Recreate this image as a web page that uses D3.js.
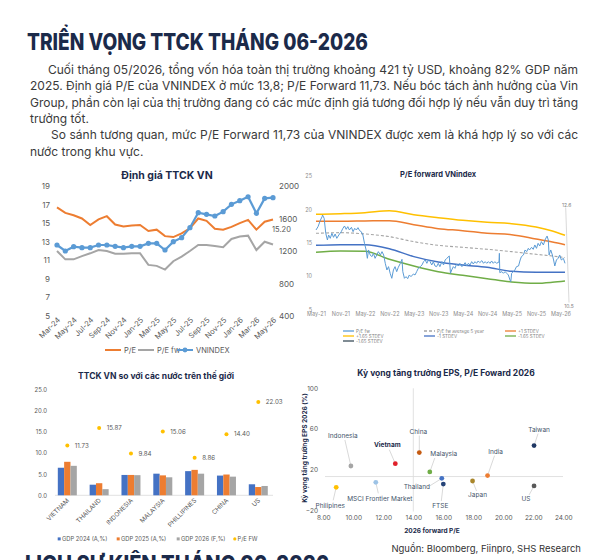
<!DOCTYPE html>
<meta charset="utf-8">
<style>
body { margin: 0; background: #fff; }
#page { width: 595px; height: 560px; overflow: hidden; }
</style>
<div id="page"></div>
<script src="https://d3js.org/d3.v7.min.js"></script>
<script>
  var FONT = "Inter, 'Noto Sans', 'DejaVu Sans', sans-serif";
  var NAVY = "#1B2A4A";
  var GREY = "#595959";

  // ---- header text
  var pageTitle = "TRIỂN VỌNG TTCK THÁNG 06-2026";
  var nextTitle = "LỊCH SỰ KIỆN THÁNG 06-2026";
  var introLines = [
    "Cuối tháng 05/2026, tổng vốn hóa toàn thị trường khoảng 421 tỷ USD, khoảng 82% GDP năm",
    "2025. Định giá P/E của VNINDEX ở mức 13,8; P/E Forward 11,73. Nếu bóc tách ảnh hưởng của Vin",
    "Group, phần còn lại của thị trường đang có các mức định giá tương đối hợp lý nếu vẫn duy trì tăng",
    "trưởng tốt.",
    "So sánh tương quan, mức P/E Forward 11,73 của VNINDEX được xem là khá hợp lý so với các",
    "nước trong khu vực."
  ];
  var introIndent = [18, 0, 0, 0, 21, 0];
  var introJustify = [true, true, true, false, true, false];
  var sourceNote = "Nguồn: Bloomberg, Fiinpro, SHS Research";

  // ---- chart 1: Định giá TTCK VN
  var c1Months = ["Mar-24","Apr-24","May-24","Jun-24","Jul-24","Aug-24","Sep-24","Oct-24","Nov-24",
    "Dec-24","Jan-25","Feb-25","Mar-25","Apr-25","May-25","Jun-25","Jul-25","Aug-25","Sep-25",
    "Oct-25","Nov-25","Dec-25","Jan-26","Feb-26","Mar-26","Apr-26","May-26"];
  var c1PE = [16.7, 16.1, 15.85, 15.5, 14.8, 15.4, 15.75, 14.85, 14.65, 14.75, 14.8, 14.15, 14.3, 13.6,
    13.5, 13.9, 14.45, 15.5, 15.25, 14.4, 14.3, 14.6, 15.0, 15.35, 14.3, 15.15, 15.4];
  var c1PEfw = [12.0, 11.1, 11.1, 11.45, 11.75, 12.1, 12.0, 11.7, 11.7, 11.75, 11.75, 10.5, 10.4, 10.0,
    10.9, 11.4, 12.0, 12.65, 12.65, 12.55, 12.4, 13.3, 13.55, 13.65, 12.1, 13.0, 12.7];
  var c1Vni = [1274, 1200, 1253, 1241, 1241, 1274, 1274, 1257, 1241, 1257, 1257, 1294, 1294, 1212,
    1315, 1364, 1487, 1672, 1651, 1631, 1684, 1774, 1819, 1868, 1664, 1848, 1856];

  // ---- chart 2: P/E forward VNindex (t = months since May-21)
  var c2Ticks = ["May-21","Nov-21","May-22","Nov-22","May-23","Nov-23","May-24","Nov-24","May-25","Nov-25","May-26"];
  var c2PEfw = [[0,16.9],[0.5,17.4],[1.1,18.4],[1.5,18.9],[1.6,19.15],[2.0,18.65],[2.4,16.4],[2.8,15.4],
    [3.1,16.15],[3.5,15.65],[3.9,16.4],[4.3,15.8],[4.7,16.3],[5.1,15.65],[5.6,16.15],[6.2,16.65],
    [6.6,17.15],[7.0,17.5],[7.4,17.0],[7.8,17.4],[8.2,16.9],[8.7,17.3],[9.1,16.65],[9.5,17.15],
    [9.9,16.9],[10.3,17.25],[10.7,16.8],[11.1,16.65],[11.5,16.15],[11.9,14.9],[12.3,13.9],[12.6,12.65],
    [12.9,13.9],[13.3,13.15],[13.7,12.9],[14.1,13.4],[14.5,12.65],[14.9,13.15],[15.3,13.65],[15.8,13.15],
    [16.2,13.65],[16.6,13.15],[17.0,11.9],[17.4,10.9],[17.8,11.4],[18.2,10.4],[18.6,9.65],[19.0,10.9],
    [19.4,11.4],[19.8,10.65],[20.2,11.3],[20.7,11.9],[21.1,12.5],[21.3,10.65],[21.7,9.65],[22.1,9.9],
    [22.5,9.6],[22.9,10.15],[23.3,9.9],[23.9,10.3],[24.3,10.15],[24.7,10.65],[25.1,11.15],[25.6,11.4],
    [26.0,11.65],[26.4,12.15],[26.8,12.4],[27.2,11.9],[27.6,12.4],[28.0,12.15],[28.4,11.65],[28.8,12.15],
    [29.2,11.5],[29.6,11.4],[30.0,11.9],[30.4,11.4],[30.9,12.15],[31.3,11.65],[31.7,12.4],[32.1,12.65],
    [32.7,13.0],[33.0,10.4],[33.3,10.9],[33.7,11.4],[34.1,11.15],[34.5,11.8],[34.9,11.5],[35.3,11.9],
    [35.8,11.4],[36.2,11.65],[36.6,12.0],[37.0,11.5],[37.4,11.9],[37.8,11.65],[38.2,12.15],[38.6,11.8],
    [39.0,12.15],[39.4,11.9],[39.8,12.25],[40.2,12.0],[40.7,12.3],[41.1,11.9],[41.5,12.15],[41.9,11.9],
    [42.3,12.15],[42.7,11.9],[43.1,12.25],[43.5,11.9],[43.9,12.15],[44.3,11.9],[44.9,12.1],[45.0,13.4],
    [45.1,10.5],[45.6,10.65],[46.0,10.4],[46.4,10.65],[46.8,10.4],[47.2,10.15],[47.6,9.4],[47.8,9.15],
    [48.0,10.4],[48.4,10.65],[48.8,10.9],[49.2,11.4],[49.7,11.5],[50.1,12.4],[50.4,12.9],[50.9,13.15],
    [51.3,13.9],[51.7,13.65],[52.1,14.15],[52.4,13.9],[52.9,14.3],[53.3,14.0],[53.7,14.65],[54.1,14.15],
    [54.5,14.9],[54.9,14.5],[55.3,15.15],[55.8,14.65],[56.2,15.4],[56.6,15.9],[56.7,16.0],[57.0,15.4],
    [57.2,13.15],[57.6,13.9],[58.0,13.15],[58.3,12.4],[58.6,11.5],[59.0,12.4],[59.4,12.65],[59.8,13.15],
    [60.2,12.4],[60.7,12.65],[61.1,11.9]];
  var c2BandT = [0, 6, 12, 18, 24, 30, 36, 42, 48, 54, 58, 61.1];
  var c2Plus165 = [19.25, 19.35, 19.5, 19.8, 19.2, 18.75, 18.35, 18.05, 17.85, 17.35, 16.75, 16.1];
  var c2Plus1 = [18.2, 18.2, 18.25, 18.3, 17.7, 17.1, 16.8, 16.4, 16.2, 15.55, 15.1, 14.7];
  var c2Avg = [16.4, 16.5, 16.3, 15.9, 15.15, 14.6, 14.3, 14.0, 13.65, 13.25, 13.0, 12.75];
  var c2Minus1 = [14.6, 14.7, 14.7, 14.1, 12.9, 12.1, 11.65, 11.3, 10.7, 10.55, 10.55, 10.55];
  var c2Minus165 = [13.55, 13.75, 13.7, 12.5, 11.5, 10.65, 10.1, 9.6, 9.1, 8.9, 9.05, 9.25];

  // ---- chart 3: TTCK VN so với các nước
  var c3Countries = ["VIETNAM","THAILAND","INDONESIA","MALAYSIA","PHILLIPINES","CHINA","US"];
  var c3Gdp2024 = [6.5, 2.5, 4.8, 5.1, 5.7, 4.65, 2.6];
  var c3Gdp2025 = [7.9, 2.85, 4.8, 4.7, 6.0, 4.9, 1.95];
  var c3Gdp2026 = [6.95, 1.45, 4.75, 4.25, 5.1, 4.4, 2.2];
  var c3PeFw = [11.73, 15.87, 9.84, 15.06, 8.86, 14.40, 22.03];

  // ---- chart 4: EPS growth vs forward P/E
  var c4Names = ["Philipines","MSCI Frontier Market","Indonesia","Vietnam","China","Malaysia",
    "Thailand","FTSE","Japan","India","Taiwan","US"];
  var c4PE = [8.86, 11.5, 9.84, 12.8, 14.4, 15.1, 15.9, 16.0, 17.95, 18.95, 22.05, 22.05];
  var c4Eps = [2.4, 7.3, 23.4, 25.7, 36.6, 17.5, 11.2, 5.6, 8.6, 13.9, 43.5, 3.7];
  var c4AvgPE = 14, c4AvgEps = 13;

  // label placement for chart 4: [label dx, label dy, leader dx, leader dy]
  var c4Label = [[-6,18,-3,13],[4,16,2.5,11],[-8,-30,-6,-26],[-8,-18.5,-6,-14],[-1,-20.5,0,-17],
    [14,-18,5,-14],[-25,8,-12,7.5],[-3,22,-2,17],[5,14,4,10],[8,-24,7,-20],[5,-15.5,4,-12],[-8,13,-5,9]];
  var c4Colors = ["#FFC000","#9DC3E6","#A5A5A5","#E0202A","#C55A11","#70AD47","#4472C4","#264478",
    "#A9862B","#ED7D31","#203864","#595959"];

  function tidy(g, size, color) {
    g.select(".domain").remove();
    g.attr("font-family", FONT).attr("font-size", size).attr("color", color);
  }

  var svg = d3.select("#page").append("svg")
    .attr("width", 595).attr("height", 560)
    .attr("font-family", FONT);

  // ---- header
  svg.append("text").attr("x", 27).attr("y", 50)
    .attr("font-size", 23).attr("font-weight", 800).attr("fill", NAVY)
    .attr("textLength", 341).attr("lengthAdjust", "spacingAndGlyphs")
    .text(pageTitle);

  introLines.forEach(function(line, i) {
    var x0 = 30 + introIndent[i];
    var t = svg.append("text").attr("x", x0).attr("y", 74 + i * 16.3)
      .attr("font-size", 12).attr("fill", "#3a3a3a").text(line);
    if (introJustify[i]) {
      var gaps = line.split(" ").length - 1;
      var extra = (578 - x0 - t.node().getComputedTextLength()) / gaps;
      t.style("word-spacing", extra + "px");
    }
  });

  // ---- chart 1
  var g1 = svg.append("g");
  g1.append("text").attr("x", 167).attr("y", 179).attr("text-anchor", "middle")
    .attr("font-size", 10.5).attr("font-weight", 700).attr("fill", NAVY)
    .text("Định giá TTCK VN");

  var x1 = d3.scalePoint().domain(c1Months).range([57, 273]);
  var y1 = d3.scaleLinear().domain([5, 19]).range([316, 186]);
  var y1r = d3.scaleLinear().domain([400, 2000]).range([316, 186]);

  g1.append("g").attr("transform", "translate(53,0)")
    .call(d3.axisLeft(y1).tickValues(d3.range(5, 20, 2)).tickSize(0).tickPadding(3))
    .call(tidy, 8, GREY);
  g1.append("g").attr("transform", "translate(276,0)")
    .call(d3.axisRight(y1r).tickValues(d3.range(400, 2001, 400)).tickFormat(d3.format("d")).tickSize(0).tickPadding(3))
    .call(tidy, 8, GREY);
  g1.append("g").attr("transform", "translate(0,320)")
    .call(d3.axisBottom(x1).tickValues(c1Months.filter(function(d, i) { return i % 2 === 0; })).tickSize(0))
    .call(tidy, 7.5, GREY)
    .selectAll("text").attr("x", 2).attr("y", 0).attr("dy", "0.35em")
    .attr("text-anchor", "end").attr("transform", "rotate(-45)");

  function line1(y) {
    return d3.line()
      .x(function(d, i) { return x1(c1Months[i]); })
      .y(function(d) { return y(d); });
  }
  g1.append("path").datum(c1PEfw).attr("d", line1(y1))
    .attr("fill", "none").attr("stroke", "#A5A5A5").attr("stroke-width", 2);
  g1.append("path").datum(c1PE).attr("d", line1(y1))
    .attr("fill", "none").attr("stroke", "#ED7D31").attr("stroke-width", 2);
  g1.append("path").datum(c1Vni).attr("d", line1(y1r))
    .attr("fill", "none").attr("stroke", "#5B9BD5").attr("stroke-width", 2.2);
  g1.selectAll(".vni").data(c1Vni).join("circle").attr("class", "vni")
    .attr("cx", function(d, i) { return x1(c1Months[i]); })
    .attr("cy", function(d) { return y1r(d); })
    .attr("r", 2.6).attr("fill", "#5B9BD5");
  g1.append("text").attr("x", 272).attr("y", 231.5)
    .attr("font-size", 7.5).attr("fill", GREY).text("15.20");

  var leg1 = [["P/E", "#ED7D31", 105, false], ["P/E fw", "#A5A5A5", 138, false], ["VNINDEX", "#5B9BD5", 177, true]];
  leg1.forEach(function(d) {
    g1.append("line").attr("x1", d[2]).attr("x2", d[2] + 16).attr("y1", 350).attr("y2", 350)
      .attr("stroke", d[1]).attr("stroke-width", 2);
    if (d[3]) g1.append("circle").attr("cx", d[2] + 8).attr("cy", 350).attr("r", 2.4).attr("fill", d[1]);
    g1.append("text").attr("x", d[2] + 19).attr("y", 352.7)
      .attr("font-size", 7.5).attr("fill", GREY).text(d[0]);
  });

  // ---- chart 2
  var g2 = svg.append("g");
  g2.append("text").attr("x", 438).attr("y", 177).attr("text-anchor", "middle")
    .attr("font-size", 7.5).attr("font-weight", 700).attr("fill", NAVY)
    .text("P/E forward VNindex");

  var x2 = d3.scaleLinear().domain([0, 61.1]).range([316, 565]);
  var y2 = d3.scaleLinear().domain([5, 25]).range([309.3, 176]);

  g2.append("g").attr("transform", "translate(313,0)")
    .call(d3.axisLeft(y2).tickValues([5, 10, 15, 20, 25]).tickSize(0).tickPadding(1))
    .call(tidy, 5.5, "#8c8c8c");
  g2.append("g").attr("transform", "translate(0,312.5)")
    .call(d3.axisBottom(x2).tickValues(d3.range(0, 61, 6))
      .tickFormat(function(d, i) { return c2Ticks[i]; }).tickSize(0).tickPadding(0))
    .call(tidy, 5.5, "#8c8c8c");

  var bandLine = d3.line()
    .x(function(d, i) { return x2(c2BandT[i]); })
    .y(function(d) { return y2(d); })
    .curve(d3.curveMonotoneX);
  var bands = [[c2Plus165, "#FFC000", null], [c2Plus1, "#ED7D31", null], [c2Avg, "#A5A5A5", "3,2"],
    [c2Minus1, "#4472C4", null], [c2Minus165, "#70AD47", null]];
  bands.forEach(function(b) {
    g2.append("path").datum(b[0]).attr("d", bandLine)
      .attr("fill", "none").attr("stroke", b[1])
      .attr("stroke-width", b[2] ? 1.1 : 1.5)
      .attr("stroke-dasharray", b[2]);
  });
  g2.append("path").datum(c2PEfw)
    .attr("d", d3.line().x(function(d) { return x2(d[0]); }).y(function(d) { return y2(d[1]); }))
    .attr("fill", "none").attr("stroke", "#5B9BD5").attr("stroke-width", 1);

  g2.append("line").attr("x1", 565.7).attr("y1", 207.5).attr("x2", 569).attr("y2", 302.5)
    .attr("stroke", "#bfbfbf").attr("stroke-width", 0.6);
  g2.append("text").attr("x", 566.7).attr("y", 206.5).attr("text-anchor", "middle")
    .attr("font-size", 5).attr("fill", "#7f7f7f").text("12.6");
  g2.append("text").attr("x", 569).attr("y", 307.5).attr("text-anchor", "middle")
    .attr("font-size", 5).attr("fill", "#7f7f7f").text("10.5");

  var leg2 = [["P/E fw", "#5B9BD5", null], ["P/E fw average 5 year", "#A5A5A5", "3,2"], ["+1 STDEV", "#ED7D31", null],
    ["+1.65 STDEV", "#FFC000", null], ["-1 STDEV", "#4472C4", null], ["-1.65 STDEV", "#70AD47", null],
    ["-1.65 STDEV", "#3B4E5A", null]];
  var leg2Col = [343, 424, 505], leg2Row = [331, 336, 341];
  leg2.forEach(function(d, i) {
    var lx = leg2Col[i % 3], ly = leg2Row[Math.floor(i / 3)];
    g2.append("line").attr("x1", lx).attr("x2", lx + 11).attr("y1", ly).attr("y2", ly)
      .attr("stroke", d[1]).attr("stroke-width", 1.3).attr("stroke-dasharray", d[2]);
    g2.append("text").attr("x", lx + 13).attr("y", ly + 1.6)
      .attr("font-size", 4.5).attr("fill", "#7f7f7f").text(d[0]);
  });

  // ---- chart 3
  var g3 = svg.append("g");
  g3.append("text").attr("x", 156).attr("y", 379).attr("text-anchor", "middle")
    .attr("font-size", 8.5).attr("font-weight", 700).attr("fill", NAVY)
    .text("TTCK VN so với các nước trên thế giới");

  var x3 = d3.scaleBand().domain(c3Countries).range([51.4, 274.2]);
  var x3in = d3.scaleBand().domain([0, 1, 2]).range([-9.5, 9.5]);
  var y3 = d3.scaleLinear().domain([0, 25]).range([495.3, 389.3]);

  g3.append("g").attr("transform", "translate(48,0)")
    .call(d3.axisLeft(y3).tickValues(d3.range(0, 26, 5)).tickFormat(d3.format(".1f")).tickSize(0).tickPadding(1))
    .call(tidy, 6, GREY);
  g3.append("line").attr("x1", 55).attr("x2", 273).attr("y1", y3(0)).attr("y2", y3(0))
    .attr("stroke", "#d9d9d9").attr("stroke-width", 0.8);

  var gdpSeries = [c3Gdp2024, c3Gdp2025, c3Gdp2026];
  var gdpColors = ["#4472C4", "#ED7D31", "#A5A5A5"];
  gdpSeries.forEach(function(vals, s) {
    g3.selectAll(".bar" + s).data(vals).join("rect").attr("class", "bar" + s)
      .attr("x", function(d, i) { return x3(c3Countries[i]) + x3.bandwidth() / 2 + x3in(s); })
      .attr("width", x3in.bandwidth())
      .attr("y", function(d) { return y3(d); })
      .attr("height", function(d) { return y3(0) - y3(d); })
      .attr("fill", gdpColors[s]);
  });
  g3.selectAll(".pe").data(c3PeFw).join("circle").attr("class", "pe")
    .attr("cx", function(d, i) { return x3(c3Countries[i]) + x3.bandwidth() / 2; })
    .attr("cy", function(d) { return y3(d); })
    .attr("r", 2).attr("fill", "#FFC000");
  g3.selectAll(".pelab").data(c3PeFw).join("text").attr("class", "pelab")
    .attr("x", function(d, i) { return x3(c3Countries[i]) + x3.bandwidth() / 2 + 7.5; })
    .attr("y", function(d) { return y3(d); })
    .attr("dy", "0.35em").attr("font-size", 6.2).attr("fill", GREY)
    .text(d3.format(".2f"));

  g3.append("g").attr("transform", "translate(0,500)")
    .call(d3.axisBottom(x3).tickSize(0))
    .call(tidy, 6.3, GREY)
    .selectAll("text").attr("x", 1).attr("y", 0).attr("dy", "0.35em")
    .attr("text-anchor", "end").attr("transform", "rotate(-45)");

  var leg3 = [["GDP 2024 (A,%)", "#4472C4", 57.7], ["GDP 2025 (A,%)", "#ED7D31", 116.7],
    ["GDP 2026 (F,%)", "#A5A5A5", 176.7], ["P/E FW", "#FFC000", 233.3]];
  leg3.forEach(function(d, i) {
    if (i < 3) {
      g3.append("rect").attr("x", d[2]).attr("y", 537.4).attr("width", 3).attr("height", 3).attr("fill", d[1]);
    } else {
      g3.append("circle").attr("cx", d[2] + 1.5).attr("cy", 538.9).attr("r", 1.6).attr("fill", d[1]);
    }
    g3.append("text").attr("x", d[2] + 4.2).attr("y", 541)
      .attr("font-size", 5.8).attr("fill", GREY).text(d[0]);
  });

  // ---- chart 4
  var g4 = svg.append("g");
  g4.append("text").attr("x", 446).attr("y", 376).attr("text-anchor", "middle")
    .attr("font-size", 8.5).attr("font-weight", 700).attr("fill", NAVY)
    .text("Kỳ vọng tăng trưởng EPS, P/E Foward 2026");

  var x4 = d3.scaleLinear().domain([8, 24]).range([323.3, 563.3]);
  var y4 = d3.scaleLinear().domain([-20, 100]).range([510, 388.3]);

  g4.append("g").attr("transform", "translate(0,515)")
    .call(d3.axisBottom(x4).tickValues(d3.range(8, 25, 2)).tickFormat(d3.format(".2f")).tickSize(0).tickPadding(0))
    .call(tidy, 6.5, GREY);
  g4.append("g").attr("transform", "translate(319,0)")
    .call(d3.axisLeft(y4).tickValues([-20, 20, 60, 100]).tickSize(0).tickPadding(1))
    .call(tidy, 6.5, GREY);

  g4.append("line").attr("x1", x4(c4AvgPE)).attr("x2", x4(c4AvgPE)).attr("y1", y4(100)).attr("y2", 511.5)
    .attr("stroke", "#d9d9d9").attr("stroke-width", 0.8);
  g4.append("line").attr("x1", 325).attr("x2", 563).attr("y1", y4(c4AvgEps)).attr("y2", y4(c4AvgEps))
    .attr("stroke", "#d9d9d9").attr("stroke-width", 0.8);

  c4Names.forEach(function(name, i) {
    var px = x4(c4PE[i]), py = y4(c4Eps[i]), L = c4Label[i];
    g4.append("line").attr("x1", px).attr("y1", py).attr("x2", px + L[2]).attr("y2", py + L[3])
      .attr("stroke", "#bfbfbf").attr("stroke-width", 0.6);
    g4.append("circle").attr("cx", px).attr("cy", py).attr("r", 2.4).attr("fill", c4Colors[i]);
    g4.append("text").attr("x", px + L[0]).attr("y", py + L[1]).attr("dy", "0.35em")
      .attr("text-anchor", "middle").attr("font-size", 6.5)
      .attr("font-weight", name === "Vietnam" ? 700 : 400)
      .attr("fill", name === "Vietnam" ? NAVY : "#44546A").text(name);
  });

  g4.append("text").attr("x", 432).attr("y", 533).attr("text-anchor", "middle")
    .attr("font-size", 6.5).attr("font-weight", 700).attr("fill", NAVY).text("2026 forward P/E");
  g4.append("text").attr("transform", "translate(306.5,448) rotate(-90)").attr("text-anchor", "middle")
    .attr("font-size", 6.5).attr("font-weight", 700).attr("fill", NAVY)
    .text("Kỳ vọng tăng trưởng EPS 2026 (%)");

  // ---- footer
  svg.append("text").attr("x", 581).attr("y", 552).attr("text-anchor", "end")
    .attr("font-size", 9.5).attr("fill", "#333").text(sourceNote);
  svg.append("text").attr("x", 25).attr("y", 572)
    .attr("font-size", 23).attr("font-weight", 800).attr("fill", NAVY)
    .attr("textLength", 304).attr("lengthAdjust", "spacingAndGlyphs")
    .text(nextTitle);
</script>
